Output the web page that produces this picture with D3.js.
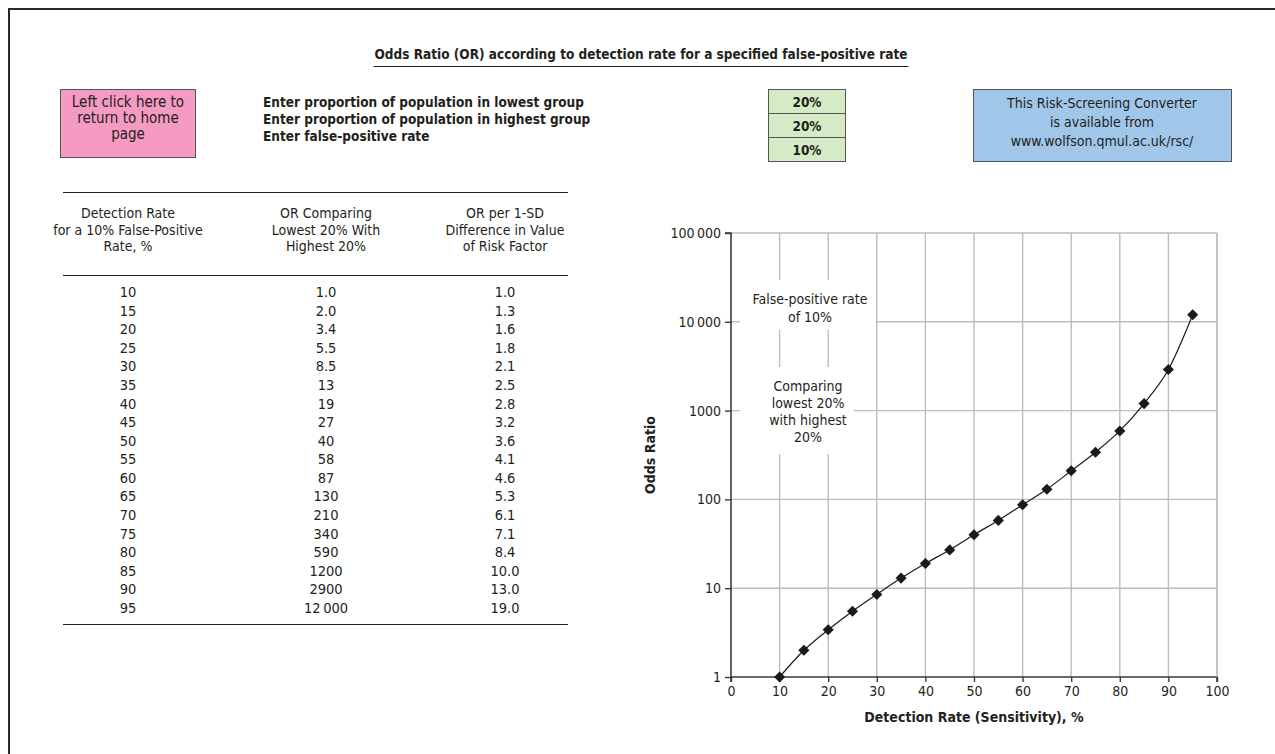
<!DOCTYPE html>
<html>
<head>
<meta charset="utf-8">
<script src="https://cdn.jsdelivr.net/npm/d3@7"></script>
<style>
  html, body { margin: 0; padding: 0; background: #fff; }
  svg { display: block; }
  text { font-family: "Liberation Sans Narrow", "DejaVu Sans Condensed", "Roboto Condensed", Arial, sans-serif; fill: #231f20; }
</style>
</head>
<body>
<svg id="chart" width="1275" height="754"></svg>
<script>
// ---------------- DATA ----------------
const detectionRates = [10, 15, 20, 25, 30, 35, 40, 45, 50, 55, 60, 65, 70, 75, 80, 85, 90, 95];
const oddsRatioLowHigh = [1.0, 2.0, 3.4, 5.5, 8.5, 13, 19, 27, 40, 58, 87, 130, 210, 340, 590, 1200, 2900, 12000];
const oddsRatioPerSD = [1.0, 1.3, 1.6, 1.8, 2.1, 2.5, 2.8, 3.2, 3.6, 4.1, 4.6, 5.3, 6.1, 7.1, 8.4, 10.0, 13.0, 19.0];
const xTickValues = [0, 10, 20, 30, 40, 50, 60, 70, 80, 90, 100];
const yTickValues = [1, 10, 100, 1000, 10000, 100000];
const yTickLabels = ["1", "10", "100", "1000", "10\u2009000", "100\u2009000"];
const inputLabels = ["Enter proportion of population in lowest group", "Enter proportion of population in highest group", "Enter false-positive rate"];
const inputValues = ["20%", "20%", "10%"];
const tableHeaders = [
  ["Detection Rate", "for a 10% False-Positive", "Rate, %"],
  ["OR Comparing", "Lowest 20% With", "Highest 20%"],
  ["OR per 1-SD", "Difference in Value", "of Risk Factor"]
];

// ---------------- DRAW ----------------
const svg = d3.select("#chart");

// outer frame
svg.append("path").attr("d", "M9,760 L9,9 L1280,9")
  .attr("fill", "none").attr("stroke", "#2a2a2a").attr("stroke-width", 2);

// title
const title = svg.append("text").attr("x", 641).attr("y", 59).attr("text-anchor", "middle")
  .attr("font-size", 13.5).attr("font-weight", "bold")
  .text("Odds Ratio (OR) according to detection rate for a specified false-positive rate");
const tb = title.node().getBBox();
svg.append("line").attr("x1", tb.x - 1).attr("x2", tb.x + tb.width + 1).attr("y1", 66.5).attr("y2", 66.5)
  .attr("stroke", "#231f20").attr("stroke-width", 1.2);

// pink box
svg.append("rect").attr("x", 60.5).attr("y", 89.5).attr("width", 135).attr("height", 68)
  .attr("fill", "#f59ac3").attr("stroke", "#555").attr("stroke-width", 1);
["Left click here to", "return to home", "page"].forEach((t, i) => {
  svg.append("text").attr("x", 128).attr("y", 107 + i * 16).attr("text-anchor", "middle")
    .attr("font-size", 15).text(t);
});

// input labels
inputLabels.forEach((t, i) => {
  svg.append("text").attr("x", 263).attr("y", 107 + i * 17).attr("font-size", 13.5)
    .attr("font-weight", "bold").text(t);
});

// green cells
inputValues.forEach((t, i) => {
  svg.append("rect").attr("x", 768.5).attr("y", 89.5 + i * 24).attr("width", 77).attr("height", 24)
    .attr("fill", "#d5ebc6").attr("stroke", "#555").attr("stroke-width", 1);
  svg.append("text").attr("x", 807).attr("y", 107 + i * 24).attr("text-anchor", "middle")
    .attr("font-size", 13.5).attr("font-weight", "bold").text(t);
});

// blue box
svg.append("rect").attr("x", 973.5).attr("y", 89.5).attr("width", 258).attr("height", 72)
  .attr("fill", "#a0c6ea").attr("stroke", "#555").attr("stroke-width", 1);
["This Risk-Screening Converter", "is available from", "www.wolfson.qmul.ac.uk/rsc/"].forEach((t, i) => {
  svg.append("text").attr("x", 1102).attr("y", 108 + i * 19).attr("text-anchor", "middle")
    .attr("font-size", 14).text(t);
});

// ---------------- TABLE ----------------
const colX = [128, 326, 505];
const tableL = 63, tableR = 568;
[192.5, 275.5, 624.5].forEach(y => {
  svg.append("line").attr("x1", tableL).attr("x2", tableR).attr("y1", y).attr("y2", y)
    .attr("stroke", "#231f20").attr("stroke-width", 1.2);
});
tableHeaders.forEach((lines, c) => {
  lines.forEach((t, i) => {
    svg.append("text").attr("x", colX[c]).attr("y", 218 + i * 16.5).attr("text-anchor", "middle")
      .attr("font-size", 14).text(t);
  });
});
function fmtOR(v) {
  if (v < 10) return v.toFixed(1);
  if (v >= 10000) return d3.format(",")(v).replace(/,/g, "\u2009");
  return String(v);
}
const rowY = d3.scaleLinear().domain([0, detectionRates.length - 1]).range([297, 613]);
detectionRates.forEach((d, i) => {
  const y = rowY(i);
  svg.append("text").attr("x", colX[0]).attr("y", y).attr("text-anchor", "middle").attr("font-size", 14.5).text(d);
  svg.append("text").attr("x", colX[1]).attr("y", y).attr("text-anchor", "middle").attr("font-size", 14.5).text(fmtOR(oddsRatioLowHigh[i]));
  svg.append("text").attr("x", colX[2]).attr("y", y).attr("text-anchor", "middle").attr("font-size", 14.5).text(oddsRatioPerSD[i].toFixed(1));
});

// ---------------- CHART ----------------
const x = d3.scaleLinear().domain([0, 100]).range([731, 1217]);
const y = d3.scaleLog().domain([1, 100000]).range([677, 233]);
const g = svg.append("g");

// gridlines
g.append("g").selectAll("line.v").data(xTickValues.filter(v => v > 0)).join("line")
  .attr("x1", d => x(d)).attr("x2", d => x(d)).attr("y1", y(100000)).attr("y2", y(1))
  .attr("stroke", "#bdbdbd").attr("stroke-width", 1.4);
g.append("g").selectAll("line.h").data(yTickValues.filter(v => v > 1)).join("line")
  .attr("x1", x(0)).attr("x2", x(100)).attr("y1", d => y(d)).attr("y2", d => y(d))
  .attr("stroke", "#bdbdbd").attr("stroke-width", 1.4);

// annotation boxes (white, covering gridlines)
g.append("rect").attr("x", 740).attr("y", 280).attr("width", 136).attr("height", 50).attr("fill", "#fff");
g.append("rect").attr("x", 740).attr("y", 367).attr("width", 114).attr("height", 87).attr("fill", "#fff");
["False-positive rate", "of 10%"].forEach((t, i) => {
  g.append("text").attr("x", 810).attr("y", 304 + i * 18).attr("text-anchor", "middle").attr("font-size", 14).text(t);
});
["Comparing", "lowest 20%", "with highest", "20%"].forEach((t, i) => {
  g.append("text").attr("x", 808).attr("y", 391 + i * 17).attr("text-anchor", "middle").attr("font-size", 14).text(t);
});

// axes
const xAxis = d3.axisBottom(x).tickValues(xTickValues).tickSize(5).tickPadding(4).tickFormat(d3.format("d"));
const yAxis = d3.axisLeft(y).tickValues(yTickValues).tickSize(6).tickPadding(4)
  .tickFormat((d, i) => yTickLabels[i]);
const gx = g.append("g").attr("transform", `translate(0,${y(1)})`).call(xAxis);
const gy = g.append("g").attr("transform", `translate(${x(0)},0)`).call(yAxis);
[gx, gy].forEach(a => {
  a.select(".domain").attr("stroke", "#3a3a3a").attr("stroke-width", 1.6);
  a.selectAll(".tick line").attr("stroke", "#3a3a3a").attr("stroke-width", 1.4);
  a.selectAll(".tick text").attr("font-size", 14).attr("fill", "#231f20")
    .attr("font-family", "'Liberation Sans Narrow', 'DejaVu Sans Condensed', Arial, sans-serif");
});
gy.select(".domain").attr("d", `M-6,${y(100000)}H0V${y(1)}`);
gx.select(".domain").attr("d", `M${x(0)},5V0H${x(100)}V5`);

// right border of plot
g.append("line").attr("x1", x(100)).attr("x2", x(100)).attr("y1", y(100000)).attr("y2", y(1))
  .attr("stroke", "#bdbdbd").attr("stroke-width", 1.4);

// axis titles
g.append("text").attr("x", x(50)).attr("y", 722).attr("text-anchor", "middle")
  .attr("font-size", 14).attr("font-weight", "bold").text("Detection Rate (Sensitivity), %");
g.append("text").attr("transform", `translate(655,${(y(1) + y(100000)) / 2}) rotate(-90)`)
  .attr("text-anchor", "middle").attr("font-size", 14).attr("font-weight", "bold").text("Odds Ratio");

// series line
const pts = detectionRates.map((d, i) => [x(d), y(oddsRatioLowHigh[i])]);
g.append("path").datum(pts).attr("d", d3.line().curve(d3.curveMonotoneX))
  .attr("fill", "none").attr("stroke", "#1a1a1a").attr("stroke-width", 1.2);

// markers
g.append("g").selectAll("path.m").data(pts).join("path")
  .attr("d", d3.symbol(d3.symbolSquare, 62))
  .attr("transform", d => `translate(${d[0]},${d[1]}) rotate(45)`)
  .attr("fill", "#1a1a1a");
</script>
</body>
</html>
